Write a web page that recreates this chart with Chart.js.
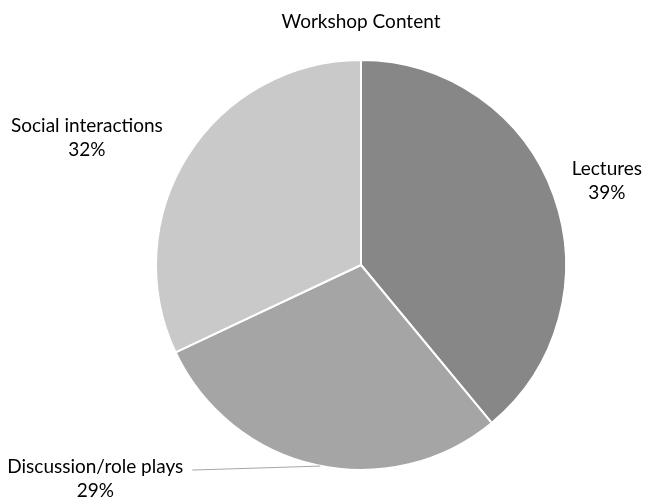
<!DOCTYPE html>
<html>
<head>
<meta charset="utf-8">
<script src="https://cdn.jsdelivr.net/npm/chart.js@4/dist/chart.umd.min.js"></script>
<style>
  html, body { margin: 0; padding: 0; background: #fff; }
  #wrap { width: 646px; height: 503px; position: relative; }
</style>
</head>
<body>
<div id="wrap"><canvas id="chart"></canvas></div>
<script>
// Workshop time split, shown as a three-slice gray pie.
var TITLE = "Workshop Content"
var labels = ["Lectures", "Discussion/role plays", "Social interactions"]
var shares = [39, 29, 32]
var colors = ["#878787", "#a5a5a5", "#c9c9c9"]

var FONT = '"Lato", "Open Sans", sans-serif'
var TEXT = "#000000"

// Where each label block sits relative to the point on the rim at the
// slice's mid-angle (dx, dy to the block centre); leader marks a connector.
var labelPlace = [
	{ dx: 53, dy: -15, leader: false },
	{ dx: -221, dy: 14, leader: true },
	{ dx: -101, dy: -17, leader: false },
]

var pieLabels = {
	id: "pieLabels",
	afterDatasetsDraw: function (chart) {
		var ctx = chart.ctx
		var meta = chart.getDatasetMeta(0)
		var area = chart.chartArea
		ctx.save()
		ctx.fillStyle = TEXT
		ctx.font = "19px " + FONT
		ctx.textAlign = "center"
		ctx.textBaseline = "middle"
		ctx.fillText(TITLE, (area.left + area.right) / 2, 22)

		meta.data.forEach(function (arc, i) {
			var p = arc.getProps(["x", "y", "startAngle", "endAngle", "outerRadius"], true)
			var mid = (p.startAngle + p.endAngle) / 2
			var ex = p.x + Math.cos(mid) * p.outerRadius
			var ey = p.y + Math.sin(mid) * p.outerRadius
			var pl = labelPlace[i]
			var cx = ex + pl.dx
			var cy = ey + pl.dy
			ctx.fillStyle = TEXT
			ctx.fillText(labels[i], cx, cy - 12)
			ctx.fillText(shares[i] + "%", cx, cy + 12)
			if (pl.leader) {
				var w = ctx.measureText(labels[i]).width
				ctx.strokeStyle = "#a6a6a6"
				ctx.lineWidth = 1
				ctx.beginPath()
				ctx.moveTo(cx + w / 2 + 9, cy - 9)
				ctx.lineTo(ex + 4, ey + 1)
				ctx.stroke()
			}
		})
		ctx.restore()
	},
}

new Chart(document.getElementById("chart"), {
	type: "pie",
	data: {
		labels: labels,
		datasets: [
			{
				data: shares,
				backgroundColor: colors,
				borderColor: "#ffffff",
				borderWidth: 2,
			},
		],
	},
	options: {
		responsive: true,
		maintainAspectRatio: false,
		animation: false,
		layout: { padding: { left: 155, right: 79, top: 59, bottom: 32 } },
		plugins: {
			legend: { display: false },
			tooltip: { enabled: false },
			title: { display: false },
		},
	},
	plugins: [pieLabels],
})
</script>
</body>
</html>
